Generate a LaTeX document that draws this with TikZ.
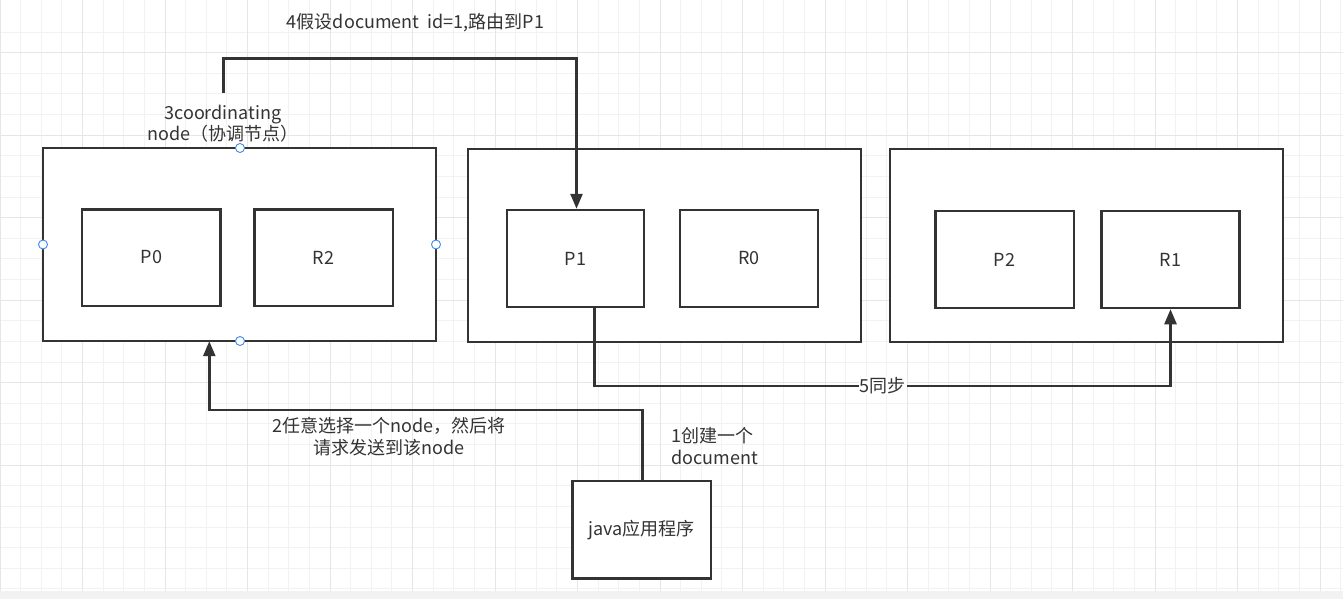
\documentclass[tikz,border=0pt]{standalone}
\usepackage{fontspec}
\setmainfont{Noto Sans CJK SC}
\usetikzlibrary{arrows.meta}
\definecolor{ink}{HTML}{333333}
\definecolor{gminor}{HTML}{F2F2F2}
\definecolor{gmajor}{HTML}{E6E6E6}
\definecolor{handle}{HTML}{3D8BF0}
\tikzset{
  box/.style={draw=ink, line width=2.5pt, fill=white, inner sep=0pt},
  lbl/.style={text=ink, font=\fontsize{18}{21.5}\selectfont, inner sep=1pt, align=center},
  conn/.style={draw=ink, line width=2.5pt, -{Triangle[length=15pt,width=12pt]}},
  hnd/.style={circle, draw=handle, fill=white, line width=0.9pt, minimum size=9pt, inner sep=0pt}
}
\begin{document}
\begin{tikzpicture}[x=1pt,y=-1pt]
\useasboundingbox (0,0) rectangle (1343,599);
\fill[white] (0,0) rectangle (1343,599);
% grid
\foreach \i in {0,...,65} {
  \draw[gminor, line width=1pt] ({\i*20.625},0) -- ({\i*20.625},591);
}
\foreach \j in {-1,...,28} {
  \draw[gminor, line width=1pt] (0,{52.7+\j*20.625}) -- (1343,{52.7+\j*20.625});
}
\foreach \i in {0,...,16} {
  \draw[gmajor, line width=1pt] ({\i*82.5},0) -- ({\i*82.5},591);
}
\foreach \j in {0,...,6} {
  \draw[gmajor, line width=1pt] (0,{52.7+(\j-1)*82.5}) -- (1343,{52.7+(\j-1)*82.5});
}
\fill[gminor] (0,591) rectangle (1343,599);
% big boxes
\path[box] (43,148) rectangle (436,341);
\node[inner sep=0pt, minimum width=393pt, minimum height=193pt] (nA) at (239.5,244.5) {};
\path[box] (468,149) rectangle (861,342);
\node[inner sep=0pt, minimum width=393pt, minimum height=193pt] (nB) at (664.5,245.5) {};
\path[box] (890,149) rectangle (1283,342);
\node[inner sep=0pt, minimum width=393pt, minimum height=193pt] (nC) at (1086.5,245.5) {};
% shards
\node[box, minimum width=138.5pt, minimum height=96.5pt, lbl, text=ink] (P0) at (151.3,257.5) {P0};
\node[box, minimum width=138.5pt, minimum height=96.5pt, lbl, text=ink] (R2) at (323.5,257.5) {R2};
\node[box, minimum width=137pt, minimum height=97pt, lbl, text=ink] (P1) at (575.5,258.5) {P1};
\node[box, minimum width=138pt, minimum height=97pt, lbl, text=ink] (R0) at (749,258.5) {R0};
\node[box, minimum width=138.5pt, minimum height=97pt, lbl, text=ink] (P2) at (1004.5,259.5) {P2};
\node[box, minimum width=138pt, minimum height=97pt, lbl, text=ink] (R1) at (1170.3,259.5) {R1};
% java app
\node[box, minimum width=138.5pt, minimum height=97.5pt, lbl, text=ink] (java) at (641.5,529.7) {java应用程序};
% coordinates for connectors
\coordinate (c3) at (223.3,93);
\coordinate (c4a) at (223.3,58.3);
\coordinate (c4b) at (576.5,58.3);
% arrow 4
\draw[conn] (c3) -- (c4a) -- (c4b) -- (P1.north -| c4b);
% arrow 2
\coordinate (j2) at (642.3,481);
\coordinate (j2a) at (642.3,410);
\coordinate (j2b) at (209.3,410);
\draw[conn] (j2) -- (j2a) -- (j2b) -- (nA.south -| j2b);
% arrow 5
\coordinate (s5) at (594.3,307);
\coordinate (s5a) at (594.3,386);
\coordinate (s5b) at (1170.5,386);
\draw[conn] (s5) -- (s5a) -- (s5b) -- (R1.south -| s5b);
\node[lbl, fill=white] (t5) at (882.5,386) {5同步};
% labels
\node[lbl] (t4) at (415.5,23) {4假设document\ \ id=1,路由到P1};
\node[lbl] (t3) at (223,123.5) {3coordinating\\node（协调节点）};
\node[lbl] (t2) at (389,436.5) {2任意选择一个node，然后将\\请求发送到该node};
\node[lbl, align=left] (t1) at (714.5,446) {1创建一个\\document};
% selection handles
\node[hnd] (h1) at (240,148) {};
\node[hnd] (h2) at (240,341) {};
\node[hnd] (h3) at (43,244.5) {};
\node[hnd] (h4) at (436,244.5) {};
\end{tikzpicture}
\end{document}
